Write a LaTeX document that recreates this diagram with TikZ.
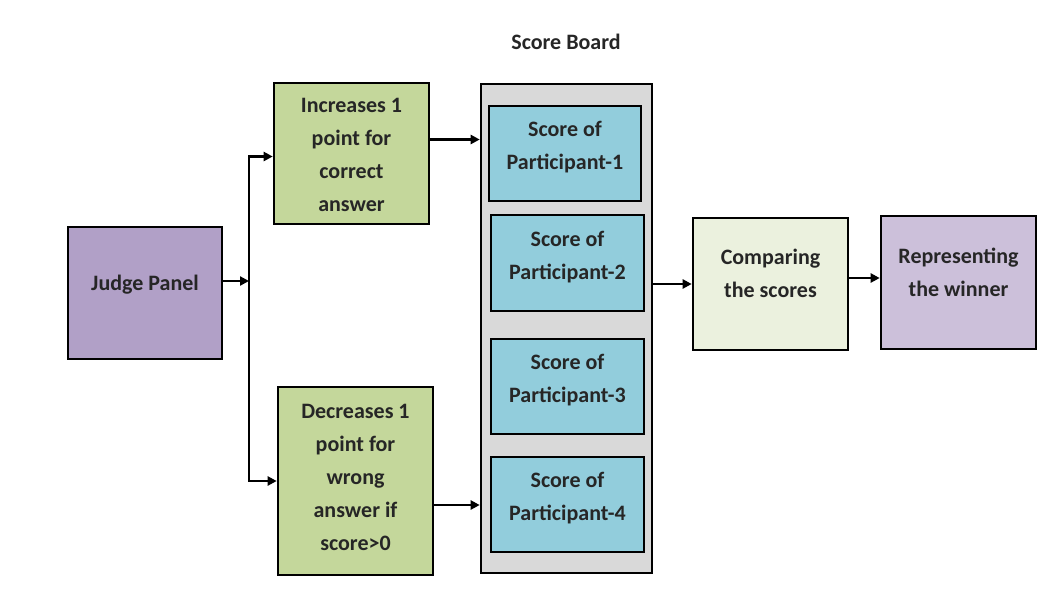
\documentclass[tikz,border=0pt]{standalone}
\usepackage{fontspec}
\setmainfont{Carlito}
\usetikzlibrary{arrows.meta,calc}
\definecolor{judgec}{HTML}{B1A0C7}
\definecolor{repc}{HTML}{CCC0DA}
\definecolor{greenc}{HTML}{C4D79B}
\definecolor{cmpc}{HTML}{EBF1DE}
\definecolor{partc}{HTML}{92CDDC}
\definecolor{boardc}{HTML}{D9D9D9}
\tikzset{
  box/.style={draw=black, line width=2.6pt, inner sep=0pt},
  txt/.style={align=center, inner sep=0pt,
    font=\bfseries\fontsize{22}{33}\selectfont, text=black!85},
  arr/.style={line width=2.6pt, -{Triangle[length=9pt,width=9pt]}},
  title/.style={font=\bfseries\fontsize{22}{26}\selectfont, text=black!85}
}
\begin{document}
\begin{tikzpicture}[x=1pt,y=-1pt]
\useasboundingbox (0,0) rectangle (1057,603);
\node[title] (ttl) at (566,42) {Score Board};
\node[box, fill=boardc, minimum width=171pt, minimum height=489pt] (board) at (566.5,328.5) {};
\node[box, fill=judgec, minimum width=154pt, minimum height=132pt] (judge) at (145,293) {};
\node[box, fill=greenc, minimum width=155pt, minimum height=141pt] (inc) at (351.5,153.5) {};
\node[box, fill=greenc, minimum width=155pt, minimum height=188pt] (dec) at (355.5,481) {};
\node[box, fill=partc, minimum width=152pt, minimum height=95pt] (p1) at (565,153.5) {};
\node[box, fill=partc, minimum width=153pt, minimum height=96pt] (p2) at (567.5,263) {};
\node[box, fill=partc, minimum width=153pt, minimum height=95pt] (p3) at (567.5,386.5) {};
\node[box, fill=partc, minimum width=153pt, minimum height=95pt] (p4) at (567.5,504.5) {};
\node[box, fill=cmpc, minimum width=155pt, minimum height=132pt] (cmp) at (770.5,284) {};
\node[box, fill=repc, minimum width=155pt, minimum height=133pt] (rep) at (958.5,282.5) {};
\node[txt] (tjudge) at ([yshift=8pt]judge.center) {Judge Panel};
\node[txt] (tinc) at ([yshift=-1pt]inc.center) {Increases 1\\point for\\correct\\answer};
\node[txt] (tdec) at ([yshift=4pt]dec.center) {Decreases 1\\point for\\wrong\\answer if\\score>0};
\node[txt] (tp1) at ([yshift=6pt]p1.center) {Score of\\Participant-1};
\node[txt] (tp2) at ([yshift=6pt]p2.center) {Score of\\Participant-2};
\node[txt] (tp3) at ([yshift=6pt]p3.center) {Score of\\Participant-3};
\node[txt] (tp4) at ([yshift=6pt]p4.center) {Score of\\Participant-4};
\node[txt] (tcmp) at ([yshift=11pt]cmp.center) {Comparing\\the scores};
\node[txt] (trep) at ([yshift=10pt]rep.center) {Representing\\the winner};
\coordinate (split) at (249,281);
\draw[arr] (judge.east |- split) -- (split);
\draw[arr] (split) |- ([yshift=-3pt]inc.west);
\draw[arr] (split) |- (dec.west);
\draw[arr] ([yshift=14pt]inc.east) -- ([yshift=14pt]inc.east -| board.west);
\draw[arr] ([yshift=-24pt]dec.east) -- ([yshift=-24pt]dec.east -| board.west);
\draw[arr] (board.east |- cmp.west) -- (cmp.west);
\draw[arr] ([yshift=6pt]cmp.east) -- ([yshift=6pt]cmp.east -| rep.west);
\end{tikzpicture}
\end{document}
